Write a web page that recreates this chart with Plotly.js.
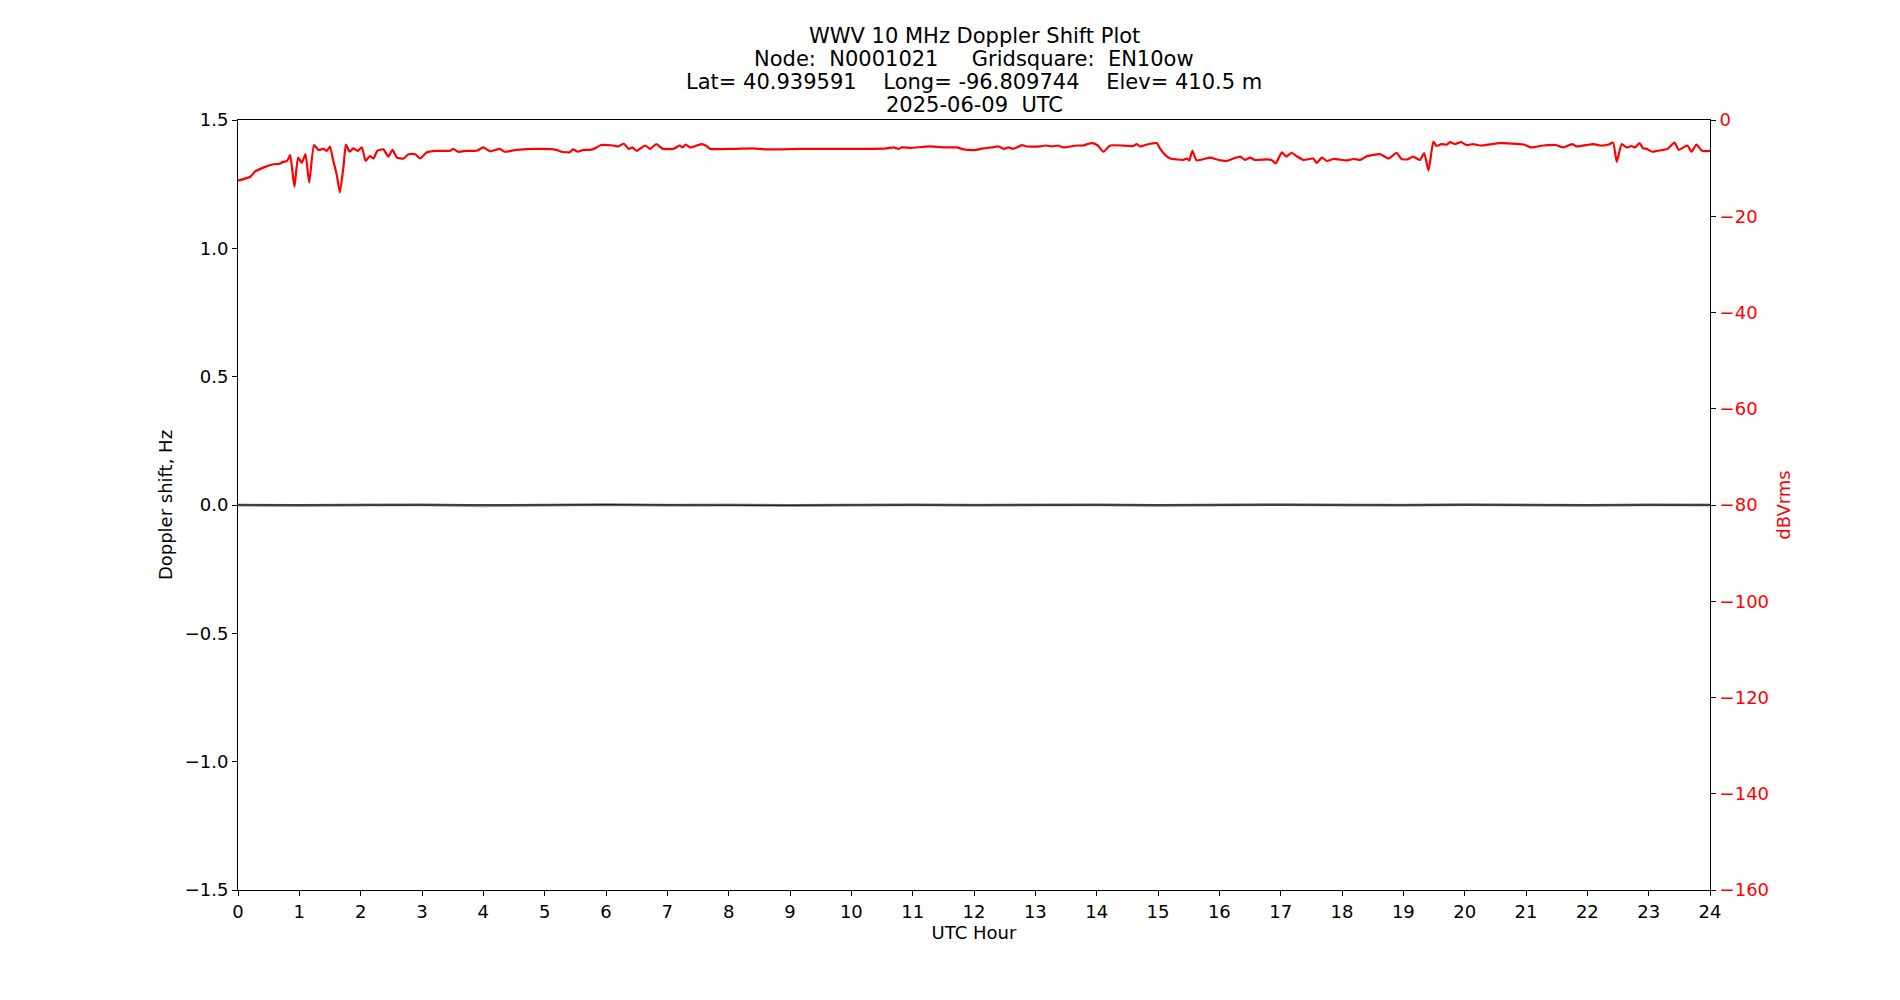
<!DOCTYPE html>
<html>
<head>
<meta charset="utf-8">
<script src="https://cdn.plot.ly/plotly-3.0.1.min.js"></script>
<style>
  body { margin: 0; background: #fff; }
  #plot { width: 1900px; height: 1000px; }
</style>
</head>
<body>
<div id="plot"></div>
<script>
// signal level (dBVrms)
var hoursPwr = [0.00, 0.20, 0.28, 0.41, 0.58, 0.68, 0.73, 0.80, 0.85, 0.92, 0.98, 1.04, 1.10, 1.16, 1.24, 1.31, 1.39, 1.45, 1.50, 1.55,
  1.61, 1.66, 1.72, 1.76, 1.82, 1.88, 1.95, 2.02, 2.08, 2.15, 2.21, 2.27, 2.37, 2.45, 2.52, 2.59, 2.70, 2.78, 2.89, 2.97,
  3.08, 3.24, 3.46, 3.51, 3.59, 3.73, 3.89, 4.00, 4.11, 4.27, 4.35, 4.54, 4.92, 5.19, 5.27, 5.41, 5.46, 5.54, 5.63, 5.74,
  5.82, 5.92, 6.12, 6.20, 6.29, 6.37, 6.43, 6.50, 6.64, 6.72, 6.82, 6.93, 7.10, 7.20, 7.25, 7.30, 7.37, 7.48, 7.56, 7.64,
  7.70, 8.08, 8.40, 8.62, 9.16, 9.71, 10.25, 10.58, 10.69, 10.77, 10.82, 10.96, 11.28, 11.55, 11.72, 11.83, 12.04, 12.15, 12.29, 12.40,
  12.49, 12.56, 12.64, 12.70, 12.78, 12.86, 13.08, 13.16, 13.29, 13.37, 13.46, 13.67, 13.78, 13.85, 13.93, 14.02, 14.11, 14.22, 14.60, 14.65,
  14.71, 14.82, 14.98, 15.03, 15.12, 15.20, 15.31, 15.41, 15.47, 15.51, 15.56, 15.63, 15.85, 15.96, 16.12, 16.23, 16.34, 16.42, 16.50, 16.58,
  16.77, 16.85, 16.92, 17.02, 17.09, 17.18, 17.26, 17.37, 17.53, 17.59, 17.67, 17.75, 17.86, 18.08, 18.19, 18.30, 18.41, 18.62, 18.76, 18.89,
  18.97, 19.06, 19.16, 19.27, 19.34, 19.41, 19.49, 19.54, 19.62, 19.71, 19.76, 19.84, 19.94, 20.03, 20.14, 20.25, 20.58, 20.96, 21.09, 21.28,
  21.48, 21.61, 21.75, 21.83, 22.10, 22.21, 22.35, 22.42, 22.48, 22.56, 22.64, 22.72, 22.78, 22.85, 22.91, 22.97, 23.06, 23.14, 23.31, 23.42,
  23.49, 23.63, 23.70, 23.78, 23.87, 24.00];
var dbvrms = [-12.6, -11.8, -10.7, -9.9, -9.2, -9.1, -8.7, -8.5, -7.3, -13.9, -7.8, -8.9, -7.1, -13.0, -5.2, -6.2, -6.0, -6.4, -5.5, -8.3,
  -11.4, -15.1, -9.7, -5.1, -6.6, -5.9, -6.4, -5.7, -8.5, -7.5, -8.0, -6.4, -6.1, -7.6, -6.2, -7.8, -8.0, -7.1, -7.1, -8.0,
  -6.7, -6.4, -6.4, -6.0, -6.6, -6.4, -6.4, -5.7, -6.5, -6.0, -6.6, -6.2, -6.0, -6.2, -6.6, -6.7, -6.1, -6.6, -6.2, -6.2,
  -5.9, -5.2, -5.3, -5.5, -4.9, -6.0, -5.7, -6.4, -5.3, -6.0, -5.0, -6.0, -6.0, -5.3, -5.7, -5.1, -5.7, -5.3, -5.0, -5.4,
  -6.0, -6.0, -5.9, -6.1, -6.0, -6.0, -6.0, -5.9, -5.7, -6.0, -5.7, -5.8, -5.5, -5.7, -5.7, -6.1, -6.2, -5.9, -5.7, -5.5,
  -6.0, -5.7, -6.0, -5.7, -5.2, -5.5, -5.5, -5.3, -5.5, -5.3, -5.7, -5.3, -5.3, -5.0, -4.8, -5.3, -6.6, -5.3, -5.4, -5.0,
  -5.5, -5.1, -4.8, -5.9, -7.3, -8.0, -8.2, -8.3, -8.0, -8.4, -6.4, -8.4, -7.8, -8.2, -8.5, -8.0, -7.6, -8.3, -7.8, -8.3,
  -8.2, -8.3, -9.0, -6.7, -7.6, -6.8, -7.5, -8.3, -8.0, -8.9, -7.8, -8.5, -8.1, -8.4, -8.1, -8.3, -7.5, -7.1, -8.0, -6.8,
  -8.1, -8.2, -7.6, -8.3, -6.9, -10.5, -4.5, -5.4, -5.0, -5.1, -4.6, -5.0, -4.6, -5.2, -5.0, -5.3, -4.8, -5.1, -5.7, -5.3,
  -5.2, -5.7, -5.0, -5.5, -5.0, -5.3, -5.1, -4.7, -8.7, -5.0, -5.7, -5.4, -5.7, -4.8, -5.9, -6.0, -6.6, -6.4, -6.0, -4.7,
  -6.2, -5.3, -6.6, -5.1, -6.4, -6.4];

// doppler shift (Hz), practically flat at zero
var hoursDop = [0, 1, 2, 3, 4, 5, 6, 7, 8, 9, 10, 11, 12, 13, 14, 15, 16, 17, 18, 19, 20, 21, 22, 23, 24];
var dopRaw = [0.000, -0.002, 0.000, 0.001, -0.003, 0.000, 0.002, -0.001, 0.000, -0.002, 0.000, 0.001, -0.001, 0.000, 0.001, -0.002, 0.000, 0.002, 0.000, -0.001, 0.002, 0.000, -0.002, 0.001, 0.000];
var dopSmooth = [0.000, -0.001, 0.000, 0.000, -0.001, 0.000, 0.001, 0.000, 0.000, -0.001, 0.000, 0.000, 0.000, 0.000, 0.000, -0.001, 0.000, 0.001, 0.000, 0.000, 0.001, 0.000, -0.001, 0.000, 0.000];

var titleLines = ['WWV 10 MHz Doppler Shift Plot',
  'Node:  N0001021     Gridsquare:  EN10ow',
  'Lat= 40.939591    Long= -96.809744    Elev= 410.5 m',
  '2025-06-09  UTC'];

var fnt = 'DejaVu Sans, sans-serif';

var traces = [
  {x: hoursDop, y: dopRaw, type: 'scatter', mode: 'lines', line: {color: '#999999', width: 3}, hoverinfo: 'skip'},
  {x: hoursDop, y: dopSmooth, type: 'scatter', mode: 'lines', line: {color: '#222222', width: 1.5}},
  {x: hoursPwr, y: dbvrms, type: 'scatter', mode: 'lines', yaxis: 'y2',
   line: {color: 'red', width: 2.2, shape: 'spline', smoothing: 0.5}}
];

// title lines as separate annotations so the line spacing matches (23 px)
var plotTop = 120, plotH = 770;
var titleAnn = titleLines.map(function (t, i) {
  var yc = 35.5 + i * 23.2;
  return {
    text: t, showarrow: false,
    xref: 'paper', x: 0.5, xanchor: 'center',
    yref: 'paper', y: 1 + (plotTop - yc) / plotH, yanchor: 'middle',
    font: {family: fnt, size: 21, color: '#000'}
  };
});

var layout = {
  width: 1900, height: 1000,
  margin: {l: 238, r: 190, t: 120, b: 110},
  paper_bgcolor: '#fff', plot_bgcolor: '#fff',
  showlegend: false,
  font: {family: fnt, size: 18, color: '#000'},
  annotations: titleAnn,
  xaxis: {
    range: [0, 24], dtick: 1, tick0: 0,
    showgrid: false, zeroline: false,
    showline: true, linecolor: '#000', linewidth: 1, mirror: true,
    ticks: 'outside', ticklen: 5, tickcolor: '#000',
    tickfont: {size: 18},
    title: {text: 'UTC Hour', font: {size: 18}, standoff: 3}
  },
  yaxis: {
    range: [-1.5, 1.5], dtick: 0.5, tick0: 0, tickformat: '.1f',
    showgrid: false, zeroline: false,
    showline: true, linecolor: '#000', linewidth: 1,
    ticks: 'outside', ticklen: 5, tickcolor: '#000',
    tickfont: {size: 18},
    title: {text: 'Doppler shift, Hz', font: {size: 18}, standoff: 7}
  },
  yaxis2: {
    overlaying: 'y', side: 'right',
    range: [-160, 0], dtick: 20, tick0: 0,
    showgrid: false, zeroline: false,
    showline: true, linecolor: '#000', linewidth: 1,
    ticks: 'outside', ticklen: 5, tickcolor: '#000',
    tickfont: {color: 'red', size: 18},
    title: {text: 'dBVrms', font: {color: 'red', size: 18}, standoff: 9}
  }
};

Plotly.newPlot('plot', traces, layout, {displayModeBar: false, staticPlot: true});
</script>
</body>
</html>
